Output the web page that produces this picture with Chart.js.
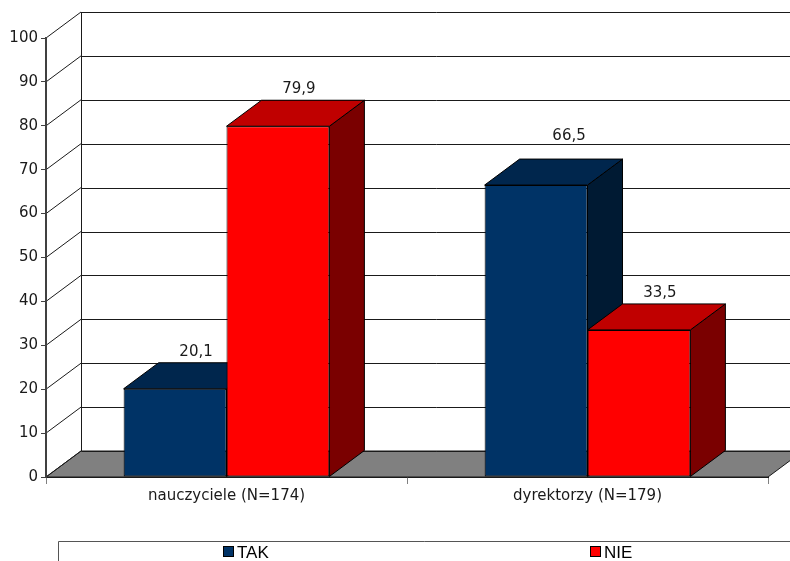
<!DOCTYPE html>
<html>
<head>
<meta charset="utf-8">
<script src="https://cdn.jsdelivr.net/npm/chart.js@4.4.1/dist/chart.umd.min.js"></script>
<style>
  html, body { margin: 0; padding: 0; background: #ffffff; }
  #wrap { width: 790px; height: 561px; overflow: hidden; }
</style>
</head>
<body>
<div id="wrap"><canvas id="c" width="790" height="561"></canvas></div>
<script>
// Survey answers (percent) by respondent group
const categories = ['nauczyciele (N=174)', 'dyrektorzy (N=179)'];
const seriesNames = ['TAK', 'NIE'];
const takValues = [20.1, 66.5];
const nieValues = [79.9, 33.5];
const yMin = 0;
const yMax = 100;
const yStep = 10;

// Face colours of the extruded bars: front, top, side
const faceColors = [
  { front: '#003366', top: '#00264d', side: '#001a33' },
  { front: '#ff0000', top: '#c00000', side: '#7a0000' }
];

const DEPTH_X = 35;   // horizontal shift of the back plane
const DEPTH_Y = 26;   // vertical shift of the back plane
const FONT = '"DejaVu Sans", Verdana, sans-serif';

// small nudges for individual value labels, keyed "dataset:index"
const labelNudge = { '0:1': { x: 12, y: -12 } };

const fmt = v => v.toFixed(1).replace('.', ',');

function line(ctx, x1, y1, x2, y2) {
  ctx.beginPath();
  ctx.moveTo(x1, y1);
  ctx.lineTo(x2, y2);
  ctx.stroke();
}

function poly(ctx, pts, fill) {
  ctx.beginPath();
  ctx.moveTo(pts[0][0], pts[0][1]);
  for (let i = 1; i < pts.length; i++) ctx.lineTo(pts[i][0], pts[i][1]);
  ctx.closePath();
  ctx.fillStyle = fill;
  ctx.fill();
  ctx.stroke();
}

// back wall, side wall and floor of the 3D box
const wallsPlugin = {
  id: 'walls',
  beforeDraw(chart) {
    const ctx = chart.ctx;
    const a = chart.chartArea;
    const ys = chart.scales.y;
    ctx.save();
    ctx.lineWidth = 1;
    ctx.strokeStyle = '#1a1a1a';
    const bx = Math.round(a.left + DEPTH_X) + 0.5;
    // floor
    poly(ctx, [
      [a.left, a.bottom],
      [a.right, a.bottom],
      [a.right + DEPTH_X, a.bottom - DEPTH_Y],
      [a.left + DEPTH_X, a.bottom - DEPTH_Y]
    ], '#808080');
    // grid lines on the side and back walls
    for (let v = yMin; v <= yMax; v += yStep) {
      const y = ys.getPixelForValue(v);
      const yb = Math.round(y - DEPTH_Y) + 0.5;
      line(ctx, a.left, y, a.left + DEPTH_X, y - DEPTH_Y);
      line(ctx, bx, yb, a.right + DEPTH_X, yb);
    }
    // corner edge between side and back walls
    line(ctx, bx, ys.getPixelForValue(yMax) - DEPTH_Y, bx, ys.getPixelForValue(yMin) - DEPTH_Y);
    ctx.restore();
  },
  // top and side faces of every bar, left to right, before the fronts
  beforeDatasetsDraw(chart) {
    const ctx = chart.ctx;
    const items = [];
    chart.data.datasets.forEach((ds, di) => {
      chart.getDatasetMeta(di).data.forEach(el => items.push({ el, di }));
    });
    items.sort((p, q) => p.el.x - q.el.x);
    ctx.save();
    ctx.lineWidth = 1;
    ctx.strokeStyle = '#000000';
    ctx.lineJoin = 'round';
    items.forEach(({ el, di }) => {
      const l = el.x - el.width / 2;
      const r = el.x + el.width / 2;
      const t = el.y;
      const b = el.base;
      const c = faceColors[di];
      poly(ctx, [[r, b], [r + DEPTH_X, b - DEPTH_Y], [r + DEPTH_X, t - DEPTH_Y], [r, t]], c.side);
      poly(ctx, [[l, t], [r, t], [r + DEPTH_X, t - DEPTH_Y], [l + DEPTH_X, t - DEPTH_Y]], c.top);
    });
    ctx.restore();
  },
  // value labels above the bars and the legend strip at the bottom
  afterDraw(chart) {
    const ctx = chart.ctx;
    ctx.save();
    ctx.font = '15px ' + FONT;
    ctx.fillStyle = '#1a1a1a';
    ctx.textAlign = 'center';
    ctx.textBaseline = 'middle';
    chart.data.datasets.forEach((ds, di) => {
      chart.getDatasetMeta(di).data.forEach((el, i) => {
        const n = labelNudge[di + ':' + i] || { x: 0, y: 0 };
        ctx.fillText(fmt(ds.data[i]), el.x + 21 + n.x, el.y - DEPTH_Y - 11 + n.y);
      });
    });

    // legend
    const W = chart.width;
    ctx.strokeStyle = '#555555';
    ctx.lineWidth = 1;
    line(ctx, 58.5, 541.5, W, 541.5);
    line(ctx, 58.5, 541.5, 58.5, chart.height);
    const legendX = [223, 590];
    ctx.font = '17px "Liberation Sans", Arial, sans-serif';
    ctx.textAlign = 'left';
    ctx.textBaseline = 'middle';
    chart.data.datasets.forEach((ds, di) => {
      const x = legendX[di];
      ctx.fillStyle = faceColors[di].front;
      ctx.fillRect(x + 0.5, 546.5, 10, 10);
      ctx.strokeStyle = '#000000';
      ctx.strokeRect(x + 0.5, 546.5, 10, 10);
      ctx.fillStyle = '#000000';
      ctx.fillText(ds.label, x + 14, 553);
    });
    ctx.restore();
  }
};

new Chart(document.getElementById('c'), {
  type: 'bar',
  data: {
    labels: categories,
    datasets: [
      {
        label: seriesNames[0],
        data: takValues,
        backgroundColor: faceColors[0].front,
        borderColor: '#000000',
        borderWidth: 1,
        borderSkipped: false
      },
      {
        label: seriesNames[1],
        data: nieValues,
        backgroundColor: faceColors[1].front,
        borderColor: '#000000',
        borderWidth: 1,
        borderSkipped: false
      }
    ]
  },
  options: {
    responsive: false,
    animation: false,
    devicePixelRatio: 1,
    categoryPercentage: 0.57,
    barPercentage: 1.0,
    layout: { padding: { left: 0, right: 22, top: 38, bottom: 54 } },
    plugins: {
      legend: { display: false },
      tooltip: { enabled: false }
    },
    scales: {
      x: {
        z: 1,
        afterFit: s => { s.height = 30; },
        grid: { offset: true, drawOnChartArea: false, color: '#808080', tickLength: 7 },
        border: { display: true, color: '#1a1a1a', width: 1 },
        ticks: { color: '#1a1a1a', padding: 3, font: { family: FONT, size: 15 } }
      },
      y: {
        z: 1,
        min: yMin,
        max: yMax,
        afterFit: s => { s.width = 46; },
        grid: { drawOnChartArea: false, color: '#404040', tickLength: 5 },
        border: { display: true, color: '#404040', width: 2 },
        ticks: { stepSize: yStep, color: '#1a1a1a', padding: 3, font: { family: FONT, size: 15 } }
      }
    }
  },
  plugins: [wallsPlugin]
});
</script>
</body>
</html>
